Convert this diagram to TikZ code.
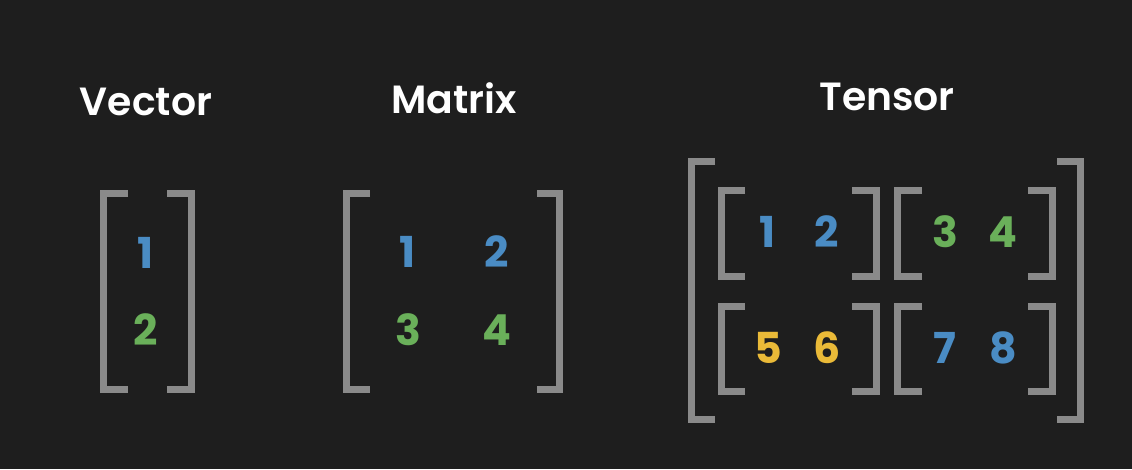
\documentclass[tikz,border=0pt]{standalone}
\usepackage{fontspec}
\setmainfont{Poppins SemiBold}
\newfontfamily\digitfont{Poppins Bold}
\definecolor{bgdark}{RGB}{30,30,30}
\definecolor{brkgray}{RGB}{138,138,138}
\definecolor{numblue}{RGB}{74,140,196}
\definecolor{numgreen}{RGB}{106,176,90}
\definecolor{numyellow}{RGB}{234,186,56}
\tikzset{
	brk/.style={draw=brkgray, line width=5.25pt, line join=miter},
	title/.style={text=white, font=\fontsize{29.5}{35}\selectfont},
	num/.style={font=\digitfont\fontsize{32}{38}\selectfont}}
\begin{document}
\begin{tikzpicture}[x=0.75pt,y=0.75pt,yscale=-1,xscale=1]
	%Shape: Background
	\fill [bgdark] (0,0) rectangle (1132,469);
	\useasboundingbox (0,0) rectangle (1132,469);

	% Text Node
	\node [title] (vec) at (146,102) {Vector};
	% Text Node
	\node [title] (mat) at (454,98) {Matrix};
	% Text Node
	\node [title] (ten) at (887,97) {Tensor};

	%Shape: Vector brackets
	\draw [brk] (128,193.5) -- (103.5,193.5) -- (103.5,389.5) -- (128,389.5);
	\draw [brk] (167,193.5) -- (191.5,193.5) -- (191.5,389.5) -- (167,389.5);
	% Text Node
	\node [num, text=numblue] (v1) at (146,253) {1};
	% Text Node
	\node [num, text=numgreen] (v2) at (146,330) {2};

	%Shape: Matrix brackets
	\draw [brk] (370,193.5) -- (346.5,193.5) -- (346.5,389.5) -- (370,389.5);
	\draw [brk] (537,193.5) -- (559.5,193.5) -- (559.5,389.5) -- (537,389.5);
	% Text Node
	\node [num, text=numblue] (m1) at (408,252) {1};
	\node [num, text=numblue] (m2) at (497,252) {2};
	\node [num, text=numgreen] (m3) at (408,330) {3};
	\node [num, text=numgreen] (m4) at (497,330) {4};

	%Shape: Tensor outer brackets
	\draw [brk] (715,161.5) -- (691.5,161.5) -- (691.5,419.5) -- (715,419.5);
	\draw [brk] (1057,161.5) -- (1080.5,161.5) -- (1080.5,419.5) -- (1057,419.5);
	%Shape: Tensor inner brackets, top row
	\draw [brk] (745,190.5) -- (721.5,190.5) -- (721.5,276.5) -- (745,276.5);
	\draw [brk] (852,190.5) -- (876.5,190.5) -- (876.5,276.5) -- (852,276.5);
	\draw [brk] (922,190.5) -- (897.5,190.5) -- (897.5,276.5) -- (922,276.5);
	\draw [brk] (1028,190.5) -- (1052.5,190.5) -- (1052.5,276.5) -- (1028,276.5);
	%Shape: Tensor inner brackets, bottom row
	\draw [brk] (745,306.5) -- (721.5,306.5) -- (721.5,391.5) -- (745,391.5);
	\draw [brk] (852,306.5) -- (876.5,306.5) -- (876.5,391.5) -- (852,391.5);
	\draw [brk] (922,306.5) -- (897.5,306.5) -- (897.5,391.5) -- (922,391.5);
	\draw [brk] (1028,306.5) -- (1052.5,306.5) -- (1052.5,391.5) -- (1028,391.5);
	% Text Node
	\node [num, text=numblue] (t1) at (768,232) {1};
	\node [num, text=numblue] (t2) at (827,232) {2};
	\node [num, text=numgreen] (t3) at (945,232) {3};
	\node [num, text=numgreen] (t4) at (1003,232) {4};
	\node [num, text=numyellow] (t5) at (768,348) {5};
	\node [num, text=numyellow] (t6) at (827,348) {6};
	\node [num, text=numblue] (t7) at (945,348) {7};
	\node [num, text=numblue] (t8) at (1003,348) {8};

\end{tikzpicture}
\end{document}
